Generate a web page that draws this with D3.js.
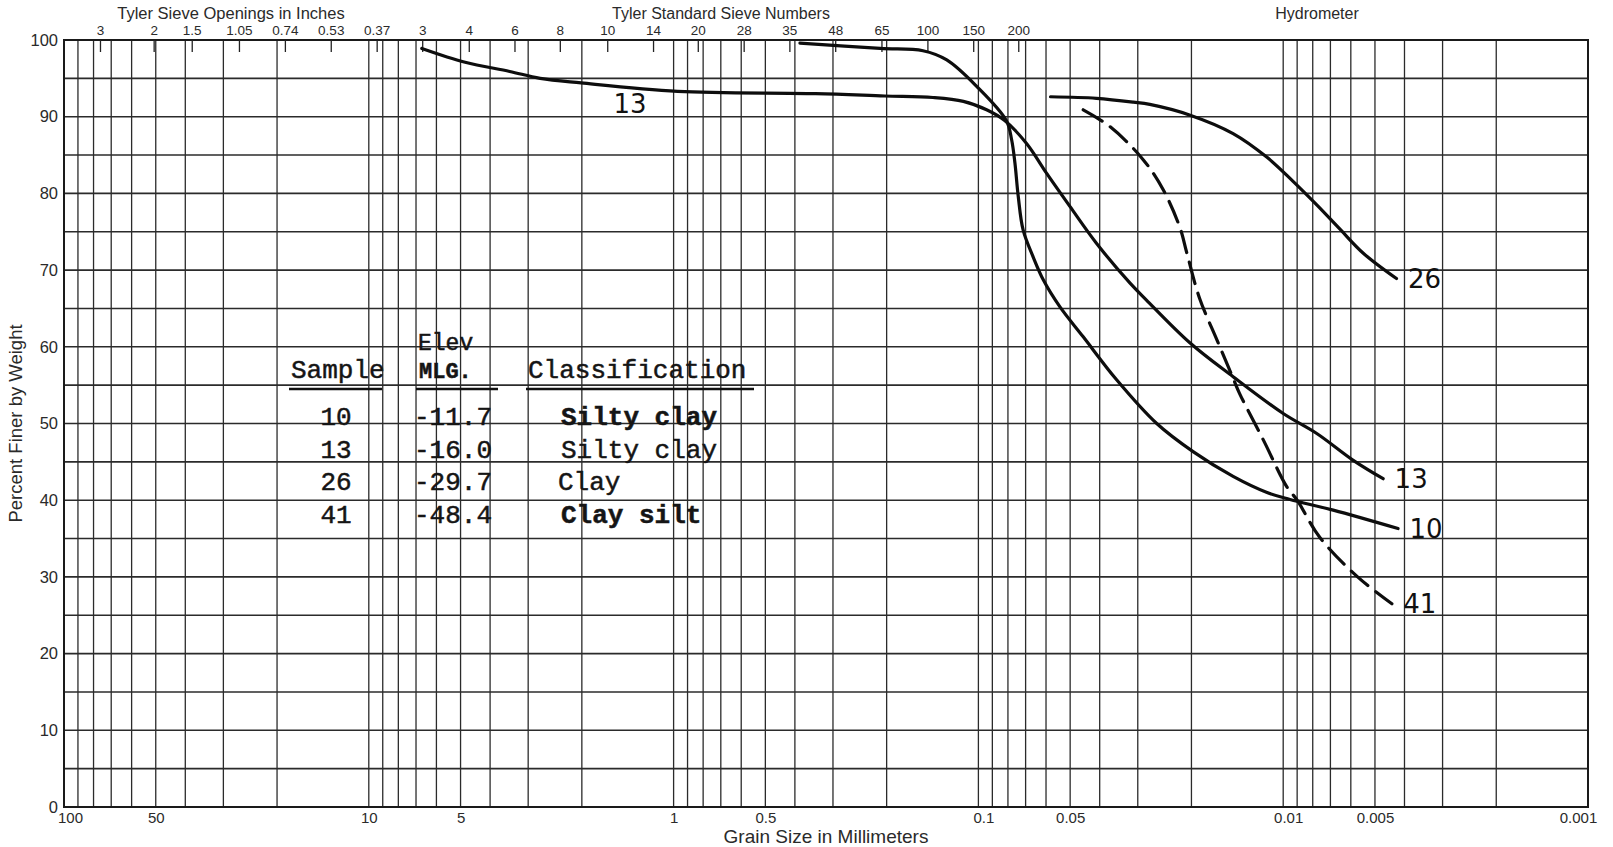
<!DOCTYPE html>
<html>
<head>
<meta charset="utf-8">
<script src="https://cdn.jsdelivr.net/npm/d3@7"></script>
<style>
  body { margin: 0; background: #fff; }
  svg { display: block; }
  .grid line { stroke: #2b2b2b; }
  .axis-label { font-family: "Liberation Sans", Arial, sans-serif; fill: #2a2a2a; }
  .typed { font-family: "Liberation Mono", "Courier New", monospace; fill: #151515; }
  .hand { font-family: "DejaVu Sans", sans-serif; fill: #111; }
</style>
</head>
<body>
<svg id="chart"></svg>
<script>
// grain size distribution curves (mm, percent finer)
const sample10 = [
  [0.385, 99.6], [0.21, 98.9], [0.152, 98.6], [0.127, 97.4], [0.101, 93.9],
  [0.081, 89.5], [0.0778, 87.0], [0.0759, 84.0], [0.074, 79.6], [0.0713, 75.2],
  [0.0661, 71.7], [0.0612, 68.7], [0.054, 65.2], [0.0453, 61.3], [0.0352, 55.7],
  [0.026, 50.0], [0.0197, 46.3], [0.0146, 43.1], [0.0113, 41.0], [0.0095, 40.1],
  [0.00685, 38.7], [0.0042, 36.3],
];
const sample13 = [
  [6.7, 98.9], [4.83, 97.1], [3.45, 95.9], [2.74, 95.0], [2.01, 94.4],
  [0.97, 93.3], [0.342, 93.0], [0.203, 92.7], [0.141, 92.5], [0.112, 92.0],
  [0.094, 90.9], [0.082, 89.5], [0.0695, 86.5], [0.0597, 82.6], [0.0501, 78.3],
  [0.041, 73.5], [0.0318, 68.3], [0.0281, 66.1], [0.0202, 60.5], [0.0146, 56.1],
  [0.01, 51.3], [0.00776, 48.7], [0.00589, 45.2], [0.0047, 42.8],
];
const sample26 = [
  [0.058, 92.6], [0.041, 92.4], [0.031, 91.9], [0.0274, 91.6], [0.0202, 90.2],
  [0.0146, 87.8], [0.0113, 84.7], [0.0093, 81.6], [0.00776, 78.5], [0.0065, 75.3],
  [0.00546, 72.2], [0.00425, 68.9],
];
const sample41 = [
  [0.0453, 90.9], [0.037, 88.7], [0.0288, 84.4], [0.0247, 80.4], [0.0218, 75.5],
  [0.0207, 72.2], [0.0188, 66.3], [0.0165, 60.9], [0.0146, 55.9], [0.0139, 53.9],
  [0.0116, 47.8], [0.00975, 41.8], [0.009, 40.0], [0.0076, 35.2], [0.0057, 30.0],
  [0.0044, 26.5],
];

const samples = ["10", "13", "26", "41"];
const elevations = ["-11.7", "-16.0", "-29.7", "-48.4"];
const classifications = ["Silty clay", "Silty clay", "Clay", "Clay silt"];

const inchLabels = ["3", "2", "1.5", "1.05", "0.74", "0.53", "0.37"];
const inchSizes = [76.2, 50.8, 38.1, 26.67, 18.85, 13.33, 9.423];
const meshLabels = ["3", "4", "6", "8", "10", "14", "20", "28", "35", "48", "65", "100", "150", "200"];
const meshSizes = [6.68, 4.699, 3.327, 2.362, 1.651, 1.168, 0.833, 0.589, 0.417, 0.295, 0.208, 0.147, 0.104, 0.074];

const xTicks = [100, 50, 10, 5, 1, 0.5, 0.1, 0.05, 0.01, 0.005, 0.001];
const yTicks = [0, 10, 20, 30, 40, 50, 60, 70, 80, 90, 100];

const WIDTH = 1613;
const HEIGHT = 847;
const LEFT = 64;
const RIGHT = 1588;
const TOP = 40;
const BOTTOM = 807;

const svg = d3.select("#chart").attr("width", WIDTH).attr("height", HEIGHT);

const x = d3.scaleLog().domain([100, 0.001]).range([LEFT, RIGHT]);
const y = d3.scaleLinear().domain([0, 100]).range([BOTTOM, TOP]);

// log paper: 1..9 in every decade, horizontal every 5 percent
const verticals = d3.range(-3, 2).flatMap((e) =>
  d3.range(1, 10).map((k) => +(k * Math.pow(10, e)).toPrecision(3))
);
const horizontals = d3.range(0, 101, 5);

const grid = svg.append("g").attr("class", "grid");
grid
  .selectAll("line.v")
  .data(verticals)
  .join("line")
  .attr("class", "v")
  .attr("x1", (d) => x(d))
  .attr("x2", (d) => x(d))
  .attr("y1", TOP)
  .attr("y2", BOTTOM)
  .attr("stroke-width", 1.3);
grid
  .selectAll("line.h")
  .data(horizontals)
  .join("line")
  .attr("class", "h")
  .attr("x1", LEFT)
  .attr("x2", RIGHT)
  .attr("y1", (d) => y(d))
  .attr("y2", (d) => y(d))
  .attr("stroke-width", 1.6);

svg
  .append("rect")
  .attr("x", LEFT)
  .attr("y", TOP)
  .attr("width", RIGHT - LEFT)
  .attr("height", BOTTOM - TOP)
  .attr("fill", "none")
  .attr("stroke", "#1a1a1a")
  .attr("stroke-width", 2);

// axes
const yAxis = svg
  .append("g")
  .attr("transform", `translate(${LEFT},0)`)
  .call(d3.axisLeft(y).tickValues(yTicks).tickSize(0).tickPadding(6));
const xAxis = svg
  .append("g")
  .attr("transform", `translate(0,${BOTTOM})`)
  .call(
    d3.axisBottom(x).tickValues(xTicks).tickSize(0).tickPadding(5)
      .tickFormat((d) => String(d))
  );
const sieveAxis = svg
  .append("g")
  .attr("transform", `translate(0,${TOP})`)
  .call(
    d3.axisTop(x)
      .tickValues([...inchSizes, ...meshSizes])
      .tickSize(-12)
      .tickPadding(5)
      .tickFormat((d) => {
        const i = inchSizes.indexOf(d);
        return i >= 0 ? inchLabels[i] : meshLabels[meshSizes.indexOf(d)];
      })
  );

[yAxis, xAxis, sieveAxis].forEach((g) => {
  g.select(".domain").remove();
  g.selectAll("text").attr("class", "axis-label").attr("fill", "#2a2a2a");
});
yAxis.selectAll("text").attr("font-size", 16.5);
xAxis.selectAll("text").attr("font-size", 15);
xAxis
  .selectAll(".tick text")
  .attr("dx", (d) => (d === 100 ? 6 : d === 0.001 ? -10 : d === 0.1 || d === 0.01 ? 5 : 0));
sieveAxis.selectAll("text").attr("font-size", 13.5);
sieveAxis.selectAll("line").attr("stroke", "#222").attr("stroke-width", 1.3);

svg
  .append("text")
  .attr("class", "axis-label")
  .attr("transform", `translate(22,${(TOP + BOTTOM) / 2}) rotate(-90)`)
  .attr("text-anchor", "middle")
  .attr("font-size", 18.5)
  .text("Percent Finer by Weight");
svg
  .append("text")
  .attr("class", "axis-label")
  .attr("x", 826)
  .attr("y", 843)
  .attr("text-anchor", "middle")
  .attr("font-size", 19)
  .text("Grain Size in Millimeters");
svg
  .append("text")
  .attr("class", "axis-label")
  .attr("x", 231)
  .attr("y", 19)
  .attr("text-anchor", "middle")
  .attr("font-size", 16.5)
  .text("Tyler Sieve Openings in Inches");
svg
  .append("text")
  .attr("class", "axis-label")
  .attr("x", 721)
  .attr("y", 19)
  .attr("text-anchor", "middle")
  .attr("font-size", 16)
  .text("Tyler Standard Sieve Numbers");
svg
  .append("text")
  .attr("class", "axis-label")
  .attr("x", 1317)
  .attr("y", 19)
  .attr("text-anchor", "middle")
  .attr("font-size", 16)
  .text("Hydrometer");

// curves
const line = d3
  .line()
  .x((d) => x(d[0]))
  .y((d) => y(d[1]))
  .curve(d3.curveCatmullRom.alpha(0.5));

const curves = [
  { name: "10", values: sample10, dashed: false },
  { name: "13", values: sample13, dashed: false },
  { name: "26", values: sample26, dashed: false },
  { name: "41", values: sample41, dashed: true },
];

svg
  .append("g")
  .selectAll("path")
  .data(curves)
  .join("path")
  .attr("d", (c) => line(c.values))
  .attr("fill", "none")
  .attr("stroke", "#0d0d0d")
  .attr("stroke-width", 3.2)
  .attr("stroke-linecap", "round")
  .attr("stroke-dasharray", (c) => (c.dashed ? "22 10" : null));

// hand-written labels: at each curve end, plus the one under sample 13
const endLabels = curves.map((c) => {
  const last = c.values[c.values.length - 1];
  return { name: c.name, px: x(last[0]) + 28, py: y(last[1]) + 9 };
});
endLabels.push({ name: "13", px: 630, py: 113 });

svg
  .append("g")
  .selectAll("text")
  .data(endLabels)
  .join("text")
  .attr("class", "hand")
  .attr("x", (d) => d.px)
  .attr("y", (d) => d.py)
  .attr("text-anchor", "middle")
  .attr("font-size", 26)
  .text((d) => d.name);

// typed table
const table = svg
  .append("g")
  .attr("class", "typed")
  .attr("font-size", 26)
  .attr("stroke", "#151515")
  .attr("stroke-width", 0.5);
table.append("text").attr("x", 418).attr("y", 350).attr("font-size", 23).text("Elev");
table.append("text").attr("x", 291).attr("y", 378).text("Sample");
table.append("text").attr("x", 419).attr("y", 378).attr("font-size", 22).attr("font-weight", "bold").text("MLG.");
table.append("text").attr("x", 528).attr("y", 378).text("Classification");
[
  [289, 382],
  [416, 498],
  [526, 754],
].forEach(([a, b]) =>
  table
    .append("line")
    .attr("x1", a)
    .attr("x2", b)
    .attr("y1", 389)
    .attr("y2", 389)
    .attr("stroke", "#111")
    .attr("stroke-width", 2.5)
);

const rowY = d3.scalePoint().domain(samples).range([425, 523]);
table
  .selectAll("text.sample")
  .data(samples)
  .join("text")
  .attr("class", "sample")
  .attr("x", 336)
  .attr("y", (d) => rowY(d))
  .attr("text-anchor", "middle")
  .text((d) => d);
table
  .selectAll("text.elev")
  .data(elevations)
  .join("text")
  .attr("class", "elev")
  .attr("x", 414)
  .attr("y", (d, i) => rowY(samples[i]))
  .text((d) => d);
table
  .selectAll("text.cls")
  .data(classifications)
  .join("text")
  .attr("class", "cls")
  .attr("x", (d, i) => (i === 2 ? 558 : 561))
  .attr("y", (d, i) => rowY(samples[i]))
  .attr("font-weight", (d, i) => (i === 0 || i === 3 ? "bold" : null))
  .text((d) => d);
</script>
</body>
</html>
